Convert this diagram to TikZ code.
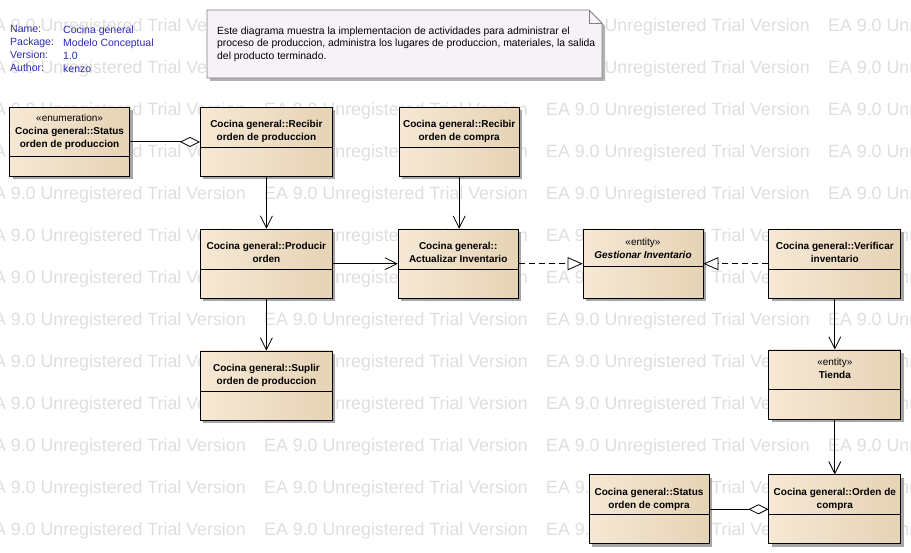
\documentclass[tikz,border=0pt]{standalone}
\usepackage{fontspec}
\setmainfont{Liberation Sans}
\usetikzlibrary{arrows.meta, positioning, shadows, calc}

\definecolor{clsleft}{HTML}{F6E8D4}
\definecolor{clsmid}{HTML}{FBF3E8}
\definecolor{clsright}{HTML}{E6D3B5}
\definecolor{notefill}{HTML}{F6F2F7}
\definecolor{metablue}{HTML}{2A2AB0}
\definecolor{wmgray}{HTML}{DEDEDE}

\begin{document}
\begin{tikzpicture}[
    x=1pt, y=-1pt,
    font=\fontsize{10}{13}\selectfont,
    cls/.style={
        draw, line width=0.8pt, align=center,
        minimum width=120pt, minimum height=69pt,
        inner xsep=2pt, inner ysep=0pt,
        text height=33.5pt, text depth=35.5pt,
        left color=clsleft, middle color=clsmid, right color=clsright,
        drop shadow={shadow xshift=3pt, shadow yshift=-3pt, fill=black!35, opacity=1},
        path picture={
            \draw[line width=0.8pt]
                ([yshift=-#1]path picture bounding box.north west) --
                ([yshift=-#1]path picture bounding box.north east);
        },
        font=\fontsize{10}{13}\selectfont\bfseries
    },
    cls/.default=40pt,
    wide/.style={minimum width=132pt},
    stereo/.style={text height=29pt, text depth=40pt},
    stereolong/.style={text height=40.5pt, text depth=28.5pt},
    notebox/.style={
        draw=black!50, line width=0.8pt, fill=notefill,
        drop shadow={shadow xshift=3pt, shadow yshift=-3pt, fill=black!30, opacity=1}
    },
    notefold/.style={draw=black!50, line width=0.8pt},
    notetext/.style={
        align=left, inner sep=0pt,
        font=\fontsize{10.4}{12.5}\selectfont
    },
    meta/.style={
        anchor=north west, align=left, inner sep=0pt, text=metablue,
        font=\fontsize{10.5}{13}\selectfont
    },
    watermark/.style={
        anchor=west, inner sep=0pt, text=wmgray,
        font=\fontsize{17.8}{20}\selectfont
    },
    assoc/.style={
        -{Straight Barb[length=12pt, width=12pt]}, line width=0.8pt
    },
    realize/.style={
        -{Triangle[length=15pt, width=13pt, fill=white]}, line width=0.8pt,
        dash pattern=on 6pt off 4pt
    },
    aggr/.style={
        -{Diamond[length=20pt, width=10pt, fill=white]}, line width=0.8pt
    }
]

\useasboundingbox (0,0) rectangle (911,553);

% --- trial watermark behind everything ---
\foreach \r in {0,...,12}{
    \foreach \c in {0,...,3}{
        \node[watermark] (wm-\r-\c) at (-18+282*\c, 26.5+42*\r) {EA 9.0 Unregistered Trial Version};
    }
}

% --- diagram header ---
\node[meta] (metakey) at (10,25.5) {Name:\\Package:\\Version:\\Author:};
\node[meta] (metaval) at (63,25.5) {Cocina general\\Modelo Conceptual\\1.0\\kenzo};

% --- note with folded corner ---
\coordinate (note-nw) at (207,10);
\coordinate (note-se) at (602,78);
\draw[notebox] (note-nw) -- ($(note-nw -| note-se)+(-13,0)$) -- ($(note-nw -| note-se)+(0,13)$)
    -- (note-se) -- (note-nw |- note-se) -- cycle;
\draw[notefold] ($(note-nw -| note-se)+(-13,0)$) |- ($(note-nw -| note-se)+(0,13)$);
\node[notetext, anchor=west] (desc) at ($(note-nw |- 0,44)+(10,0)$)
    {Este diagrama muestra la implementacion de actividades para administrar el\\
     proceso de produccion, administra los lugares de produccion, materiales, la salida\\
     del producto terminado.};

% --- production classes ---
\node[cls, wide, anchor=north west] (recprod) at (200,107) {Cocina general::Recibir\\orden de produccion};
\node[cls=49pt, stereolong, left=70pt of recprod] (stprod) {\textmd{«enumeration»}\\Cocina general::Status\\orden de produccion};
\node[cls, right=66pt of recprod] (reccomp) {Cocina general::Recibir\\orden de compra};
\node[cls, wide, below=52pt of recprod] (producir) {Cocina general::Producir\\orden};
\node[cls, right=65pt of producir] (actinv) {Cocina general::\\Actualizar Inventario};
\node[cls=37pt, stereo, right=64pt of actinv] (gestinv) {\textmd{«entity»}\\\textit{Gestionar Inventario}};
\node[cls, wide, right=65pt of gestinv] (verinv) {Cocina general::Verificar\\inventario};
\node[cls, wide, below=52pt of producir] (suplir) {Cocina general::Suplir\\orden de produccion};

% --- store and purchase classes ---
\node[cls=39pt, stereo, wide, below=51pt of verinv] (tienda) {\textmd{«entity»}\\Tienda};
\node[cls, wide, below=55pt of tienda] (ordcomp) {Cocina general::Orden de\\compra};
\node[cls, left=59pt of ordcomp] (stcomp) {Cocina general::Status\\orden de compra};

% --- associations ---
\draw[aggr] (stprod.east) -- (stprod.east -| recprod.west);
\draw[assoc] (recprod.south) -- (recprod.south |- producir.north);
\draw[assoc] (reccomp.south) -- (reccomp.south |- actinv.north);
\draw[assoc] (producir.south) -- (producir.south |- suplir.north);
\draw[assoc] (producir.east) -- (producir.east -| actinv.west);
\draw[assoc] (verinv.south) -- (verinv.south |- tienda.north);
\draw[assoc] (tienda.south) -- (tienda.south |- ordcomp.north);
\draw[aggr] (stcomp.east) -- (stcomp.east -| ordcomp.west);

% --- realizations of the inventory entity ---
\draw[realize] (actinv.east) -- (actinv.east -| gestinv.west);
\draw[realize] (verinv.west) -- (verinv.west -| gestinv.east);

\end{tikzpicture}
\end{document}
